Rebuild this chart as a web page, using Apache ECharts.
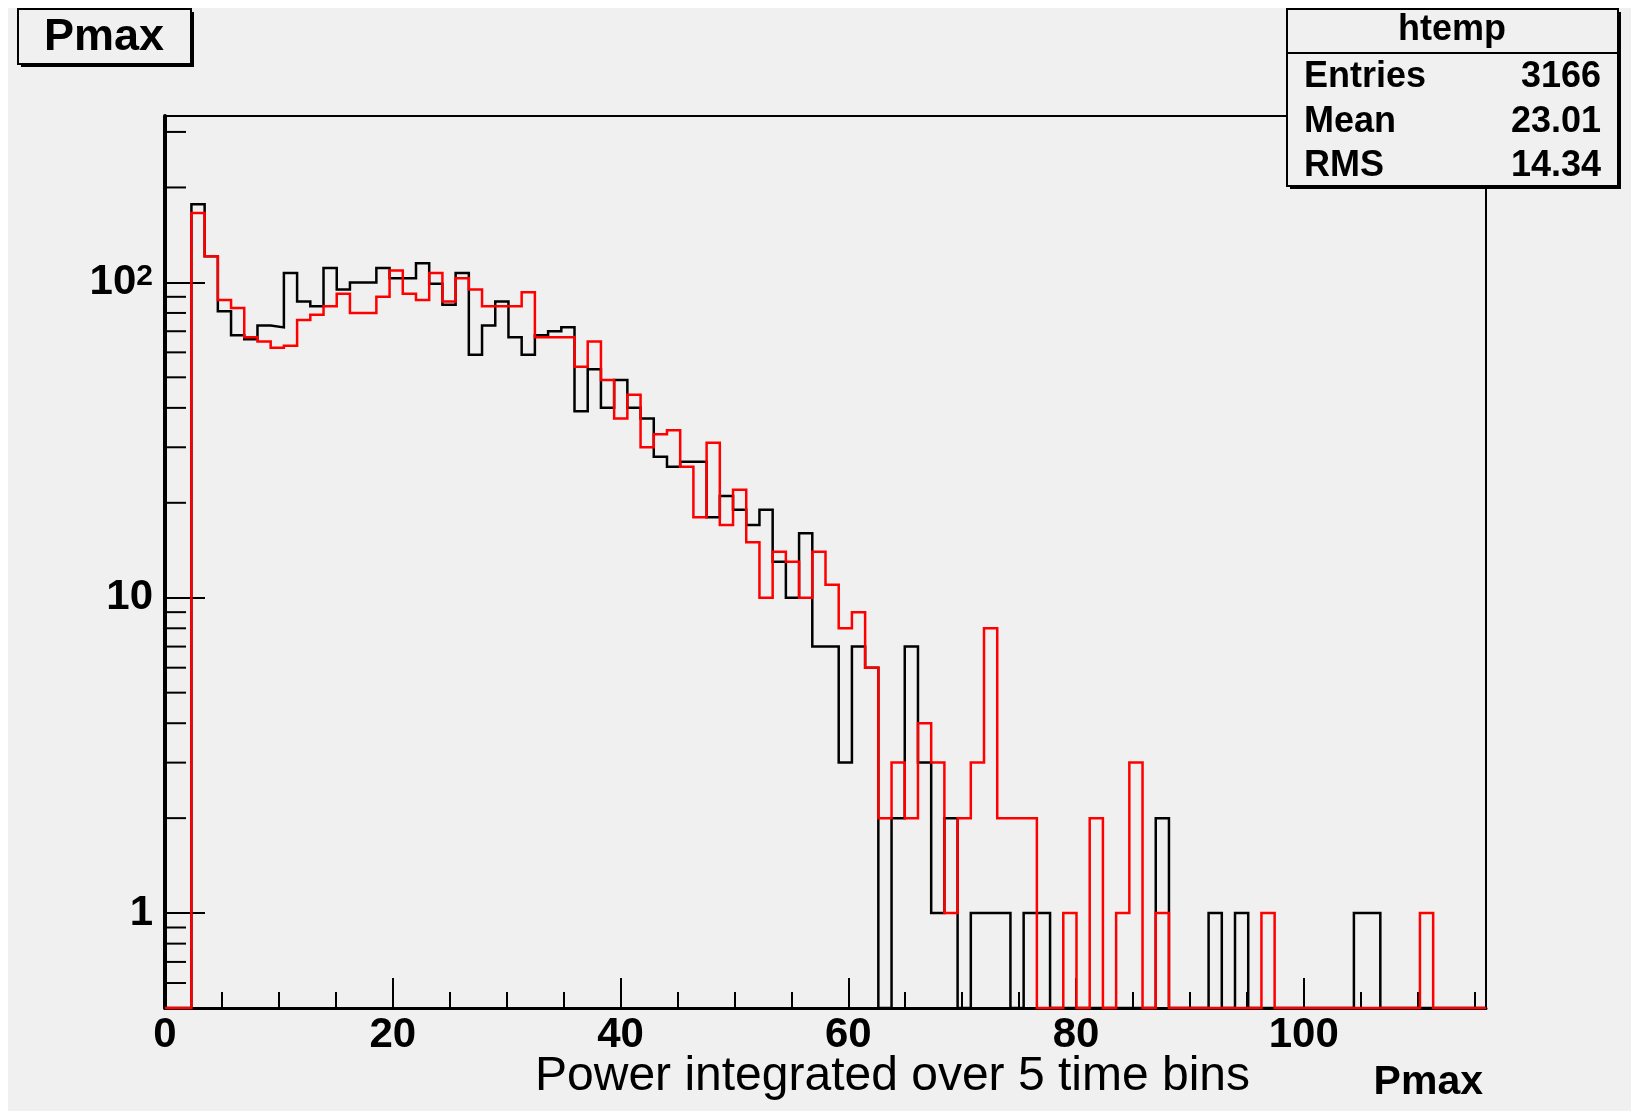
<!DOCTYPE html>
<html>
<head>
<meta charset="utf-8">
<title>Pmax</title>
<script src="https://cdn.jsdelivr.net/npm/echarts@6/dist/echarts.min.js"></script>
<style>
html, body { margin: 0; padding: 0; background: #fff; }
#bg { position: absolute; left: 8px; top: 8px; width: 1623px; height: 1103px; background: #f0f0f0; }
#main { position: absolute; left: 0; top: 0; width: 1637px; height: 1115px; }
</style>
</head>
<body>
<div id="bg"></div>
<div id="main"></div>
<script>
// histogram: 100 bins over [0, 116]
var xMin = 0, xMax = 116;
var yMin = 0.5, yMax = 337;

// counts per bin (black = first histogram, red = overlay)
var blackCounts = [
  0, 0, 177, 121, 81, 68, 66, 73, 72, 107,
  87, 84, 111, 95, 100, 100, 111, 103, 103, 115,
  99, 85, 107, 59, 73, 87, 67, 59, 68, 70,
  72, 39, 53, 40, 49, 40, 37, 28, 26, 27,
  27, 18, 21, 19, 17, 19, 13, 10, 16, 7,
  7, 3, 7, 6, 0, 2, 7, 3, 1, 2,
  0, 1, 1, 1, 0, 1, 1, 0, 0, 0,
  0, 0, 0, 0, 0, 2, 0, 0, 0, 1,
  0, 1, 0, 0, 0, 0, 0, 0, 0, 0,
  1, 1, 0, 0, 0, 0, 0, 0, 0, 0
];
var redCounts = [
  0, 0, 166, 121, 88, 83, 67, 65, 62, 63,
  76, 79, 84, 92, 80, 80, 90, 109, 92, 88,
  107, 87, 103, 95, 84, 84, 84, 93, 67, 67,
  67, 54, 65, 49, 37, 44, 30, 33, 34, 26,
  18, 31, 17, 22, 15, 10, 14, 13, 10, 14,
  11, 8, 9, 6, 2, 3, 2, 4, 3, 1,
  2, 3, 8, 2, 2, 2, 0, 0, 1, 0,
  2, 0, 1, 3, 0, 1, 0, 0, 0, 0,
  0, 0, 0, 1, 0, 0, 0, 0, 0, 0,
  0, 0, 0, 0, 0, 1, 0, 0, 0, 0
];

var xLabelStep = 20;
var xMinorStep = 5;
var yMinorTicks = [0.6, 0.7, 0.8, 0.9, 2, 3, 4, 5, 6, 7, 8, 9,
  20, 30, 40, 50, 60, 70, 80, 90, 200, 300];

var statsTitle = "htemp";
var statsNames = ["Entries", "Mean", "RMS"];
var statsValues = ["3166", "23.01", "14.34"];

var FONT = '"Liberation Sans", Arial, Helvetica, sans-serif';

// outline of a histogram; empty bins drop to the bottom of the frame
function stepPoints(counts) {
  var w = (xMax - xMin) / counts.length;
  var pts = [[xMin, yMin]];
  for (var i = 0; i < counts.length; i++) {
    var v = counts[i] > 0 ? counts[i] : yMin;
    pts.push([xMin + i * w, v]);
    pts.push([xMin + (i + 1) * w, v]);
  }
  pts.push([xMax, yMin]);
  return pts;
}

function histSeries(name, counts, color, z) {
  return {
    name: name,
    type: "line",
    data: stepPoints(counts),
    symbol: "none",
    showSymbol: false,
    clip: false,
    z: z,
    lineStyle: { color: color, width: 2.5, join: "miter" },
    animation: false,
    silent: true
  };
}

function txt(text, x, y, font, align) {
  return {
    type: "text",
    z: 101,
    style: {
      text: text, x: x, y: y, fill: "#000", font: font,
      textAlign: align, textVerticalAlign: "middle"
    }
  };
}

var chart = echarts.init(document.getElementById("main"), null, { renderer: "canvas" });

var graphics = [
  // title box
  { type: "rect", z: 100, shape: { x: 21, y: 12, width: 173, height: 55 }, style: { fill: "#000" } },
  { type: "rect", z: 100, shape: { x: 18, y: 9, width: 173, height: 55 }, style: { fill: "#f0f0f0", stroke: "#000", lineWidth: 2 } },
  txt("Pmax", 104, 38, "bold 45px " + FONT, "center"),
  // stats box
  { type: "rect", z: 100, shape: { x: 1290, y: 12, width: 331, height: 177 }, style: { fill: "#000" } },
  { type: "rect", z: 100, shape: { x: 1287, y: 9, width: 331, height: 177 }, style: { fill: "#f0f0f0", stroke: "#000", lineWidth: 2 } },
  { type: "line", z: 101, shape: { x1: 1287, y1: 53, x2: 1618, y2: 53 }, style: { stroke: "#000", lineWidth: 2 } },
  txt(statsTitle, 1452, 30, "bold 36px " + FONT, "center"),
  // axis titles
  txt("Power integrated over 5 time bins", 535, 1077, "48px " + FONT, "left"),
  txt("Pmax", 1483, 1083, "bold 41px " + FONT, "right")
];
var rowY = [77, 122, 166];
for (var r = 0; r < statsNames.length; r++) {
  graphics.push(txt(statsNames[r], 1304, rowY[r], "bold 36px " + FONT, "left"));
  graphics.push(txt(statsValues[r], 1601, rowY[r], "bold 36px " + FONT, "right"));
}

var option = {
  backgroundColor: "transparent",
  animation: false,
  grid: {
    left: 165, top: 116, width: 1321, height: 892,
    show: true, borderColor: "#000", borderWidth: 2, backgroundColor: "transparent"
  },
  xAxis: [
    {
      type: "value", min: xMin, max: xMax, interval: xLabelStep,
      position: "bottom",
      axisLine: { show: true, onZero: false, lineStyle: { color: "#000", width: 3 } },
      axisTick: { show: true, inside: true, length: 30, lineStyle: { color: "#000", width: 2 } },
      splitLine: { show: false },
      axisLabel: {
        show: true, margin: 6, color: "#000", fontSize: 42, fontWeight: "bold", fontFamily: FONT,
        showMaxLabel: false,
        formatter: function (v) { return (Math.abs(v % xLabelStep) < 1e-6) ? String(v) : ""; }
      }
    },
    {
      type: "value", min: xMin, max: xMax, interval: xMinorStep,
      position: "bottom",
      axisLine: { show: false, onZero: false },
      axisTick: { show: true, inside: true, length: 16, lineStyle: { color: "#000", width: 2 } },
      splitLine: { show: false },
      axisLabel: { show: false }
    }
  ],
  yAxis: {
    type: "log", logBase: 10, min: yMin, max: yMax,
    axisLine: { show: true, onZero: false, lineStyle: { color: "#000", width: 4 } },
    axisTick: { show: true, inside: true, length: 40, lineStyle: { color: "#000", width: 2 } },
    splitLine: { show: false },
    axisLabel: {
      show: true, margin: 12, color: "#000",
      showMinLabel: false, showMaxLabel: false,
      formatter: function (v) {
        var e = Math.log10(v);
        if (Math.abs(e - Math.round(e)) > 1e-6) return "";
        e = Math.round(e);
        if (e === 0) return "{a|1}";
        if (e === 1) return "{a|10}";
        if (e === 2) return "{a|10}{s|2}";
        return "";
      },
      rich: {
        a: { fontSize: 42, fontWeight: "bold", fontFamily: FONT, color: "#000" },
        s: { fontSize: 30, fontWeight: "bold", fontFamily: FONT, color: "#000", verticalAlign: "top", padding: [0, 0, 6, 0] }
      }
    }
  },
  graphic: graphics,
  series: [
    histSeries("black", blackCounts, "#000000", 3),
    histSeries("red", redCounts, "#ff0000", 4),
    {
      type: "custom",
      silent: true,
      z: 5,
      data: yMinorTicks.map(function (v) { return [xMin, v]; }),
      renderItem: function (params, api) {
        var p = api.coord([api.value(0), api.value(1)]);
        return {
          type: "line",
          shape: { x1: p[0], y1: p[1], x2: p[0] + 21, y2: p[1] },
          style: { stroke: "#000", lineWidth: 2 }
        };
      }
    }
  ]
};

chart.setOption(option);
</script>
</body>
</html>
